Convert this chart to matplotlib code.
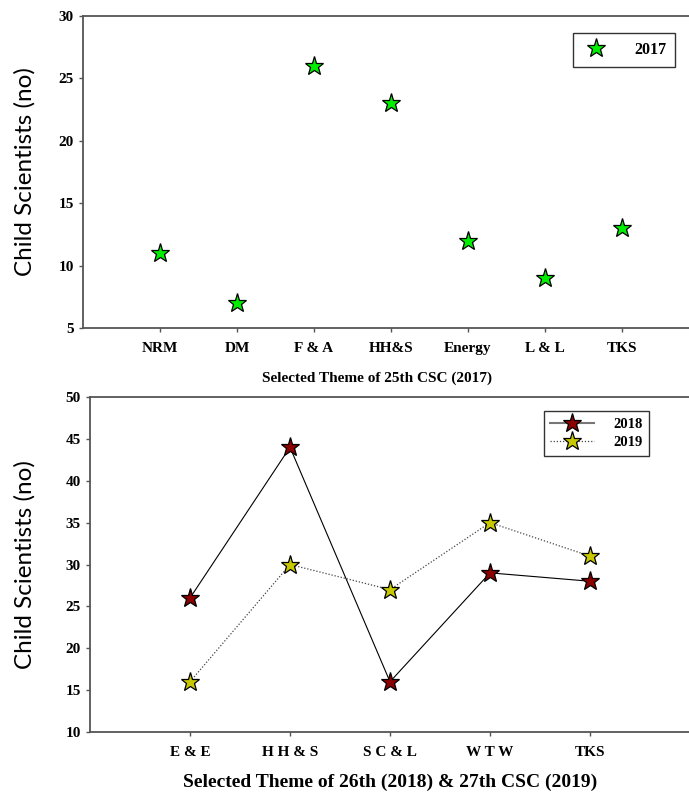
# Child scientists by selected theme, CSC 2017-2019

import matplotlib.pyplot as plt


themes_2017 = ["NRM", "DM", "F & A", "HH&S", "Energy", "L & L", "TKS"]
counts_2017 = [11, 7, 26, 23, 12, 9, 13]

themes_1819 = ["E & E", "H H & S", "S C & L", "W T W", "TKS"]
counts_2018 = [26, 44, 16, 29, 28]
counts_2019 = [16, 30, 27, 35, 31]

###

# Drawing

W, H = 689, 799
serif = "Liberation Serif"
sans = "Lato"

fig = plt.figure(figsize=(W / 100, H / 100), dpi=100)


def box(x0, y0, x1, y1):
    # pixel box -> figure fraction
    return [x0 / W, 1 - y1 / H, (x1 - x0) / W, (y1 - y0) / H]


def style(ax):
    for side in ("left", "bottom", "top"):
        ax.spines[side].set_color("#555555")
        ax.spines[side].set_linewidth(1.3)
    ax.spines["right"].set_visible(False)
    ax.tick_params(direction="out", length=3, width=1, color="#555555")
    ax.tick_params(axis="x", pad=7)
    for lab in ax.get_xticklabels():
        lab.set_fontfamily(serif)
        lab.set_fontweight("bold")
        lab.set_fontsize(11)
    for lab in ax.get_yticklabels():
        lab.set_fontfamily(serif)
        lab.set_fontweight("bold")
        lab.set_fontsize(11)


# top panel
ax1 = fig.add_axes(box(83, 16, 699, 328))
x1 = range(1, len(themes_2017) + 1)
ax1.plot(x1, counts_2017, linestyle="none", marker="*", markersize=14,
         markerfacecolor="#00ee00", markeredgecolor="black",
         markeredgewidth=0.9, label="2017")
ax1.set_xlim(0, 8)
ax1.set_ylim(5, 30)
ax1.set_yticks([5, 10, 15, 20, 25, 30])
ax1.set_xticks(list(x1))
ax1.set_xticklabels(themes_2017)
style(ax1)
ax1.set_ylabel("Child Scientists (no)", fontfamily=sans, fontsize=17.5)
ax1.yaxis.set_label_coords((36 - 83) / 616, 0.5)
ax1.set_xlabel("Selected Theme of 25th CSC (2017)", fontfamily=serif,
               fontweight="bold", fontsize=11)
ax1.xaxis.set_label_coords((377 - 83) / 616, -(372 - 328) / 312)
leg1 = ax1.legend(loc="upper right", bbox_to_anchor=((675 - 83) / 616, 1 - (33 - 16) / 312),
                  frameon=True, fancybox=False, edgecolor="black",
                  prop={"family": serif, "weight": "bold", "size": 11.5},
                  handletextpad=1.5, borderpad=0.55, handlelength=1.8,
                  borderaxespad=0)
leg1.get_frame().set_linewidth(1)

# bottom panel
ax2 = fig.add_axes(box(90, 397, 690, 732))
x2 = range(1, len(themes_1819) + 1)
ax2.plot(x2, counts_2018, color="black", linewidth=0.8, linestyle="-",
         marker="*", markersize=14, markerfacecolor="#8b0000",
         markeredgecolor="black", markeredgewidth=0.9, label="2018")
ax2.plot(x2, counts_2019, color="#444444", linewidth=0.9, linestyle=(0, (1, 1.5)),
         marker="*", markersize=14, markerfacecolor="#c8c800",
         markeredgecolor="black", markeredgewidth=0.9, label="2019")
ax2.set_xlim(0, 6)
ax2.set_ylim(10, 50)
ax2.set_yticks(range(10, 51, 5))
ax2.set_xticks(list(x2))
ax2.set_xticklabels(themes_1819)
style(ax2)
ax2.set_ylabel("Child Scientists (no)", fontfamily=sans, fontsize=17.5)
ax2.yaxis.set_label_coords((36 - 90) / 600, 0.5)
ax2.set_xlabel("Selected Theme of 26th (2018) & 27th CSC (2019)", fontfamily=serif,
               fontweight="bold", fontsize=14)
ax2.xaxis.set_label_coords(0.5, -(774 - 732) / 335)
leg2 = ax2.legend(loc="upper right", bbox_to_anchor=((649 - 90) / 600, 1 - 14 / 335),
                  frameon=True, fancybox=False, edgecolor="black",
                  prop={"family": serif, "weight": "bold", "size": 10.5},
                  handletextpad=1.3, borderpad=0.45, labelspacing=0.35,
                  handlelength=3.0, borderaxespad=0)
leg2.get_frame().set_linewidth(1)
for line in leg2.get_lines():
    if line.get_linestyle() == "-":
        line.set_color("#777777")
        line.set_linewidth(1.5)

fig.savefig("out.png", dpi=100)
